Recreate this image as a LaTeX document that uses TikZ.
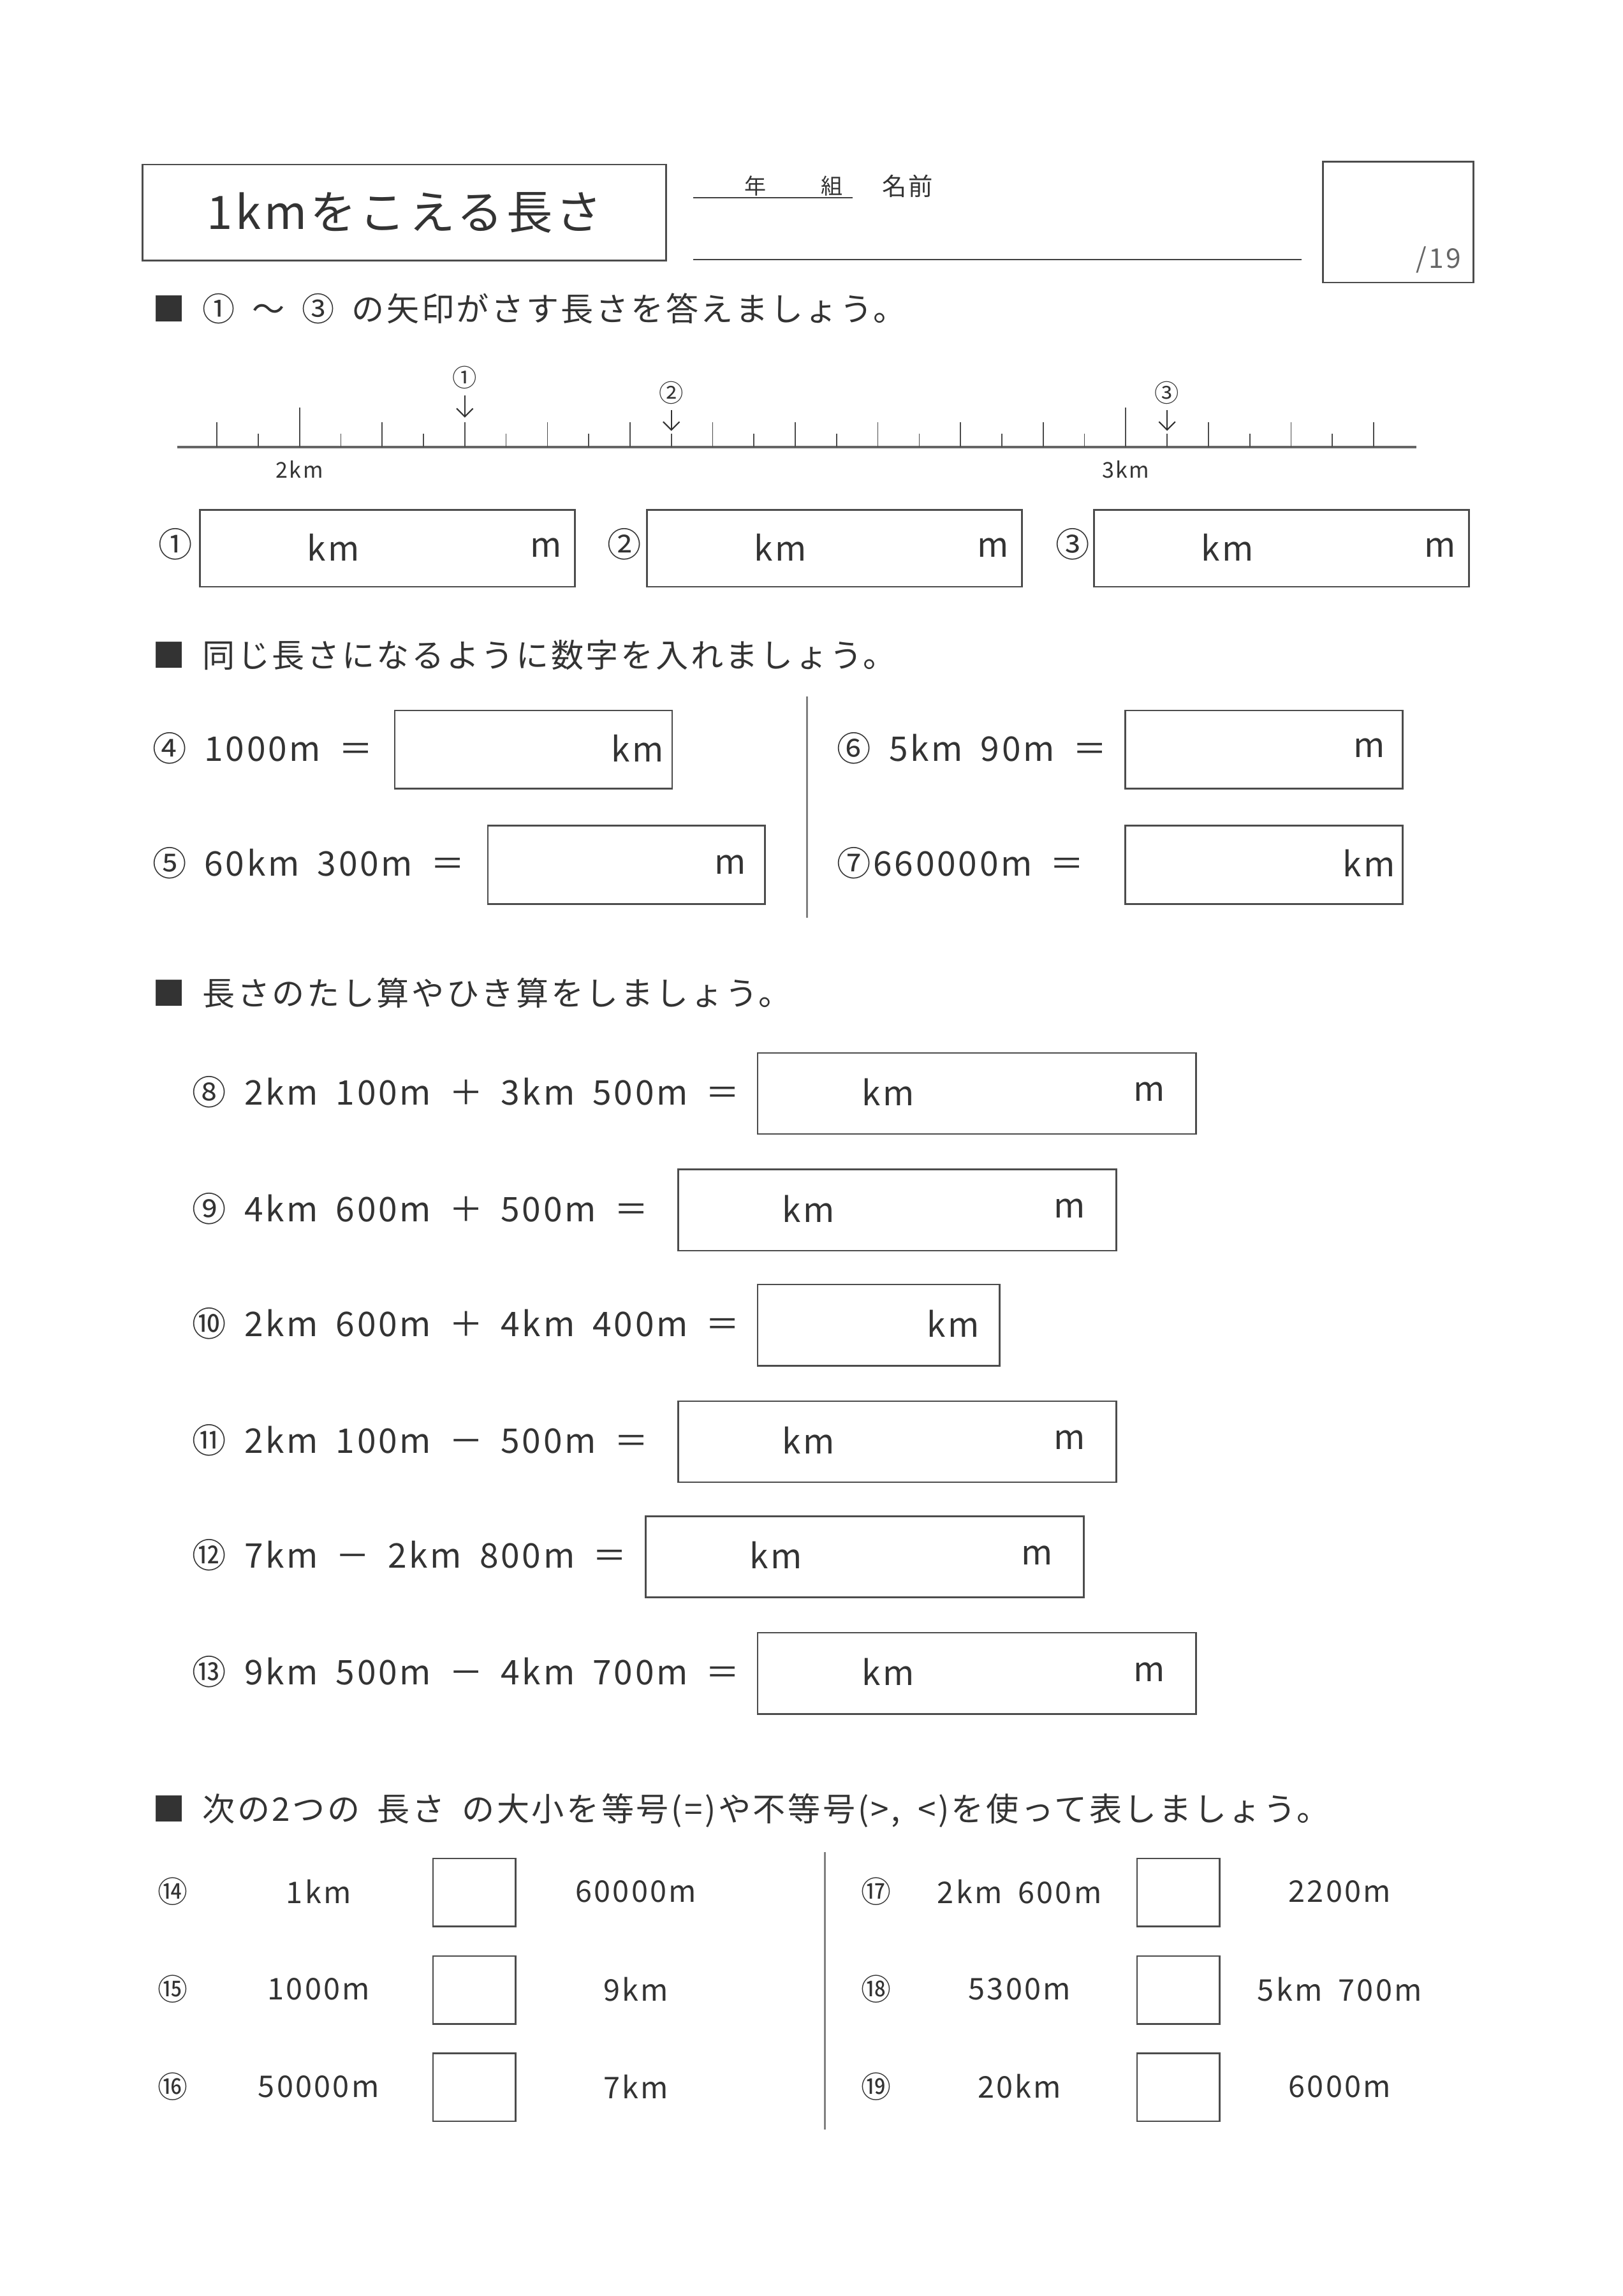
\documentclass[tikz,border=0pt]{standalone}
\usepackage{fontspec}
\setmainfont{Noto Sans CJK JP}[LetterSpace=7,WordSpace=1.8]
\usepackage{tikz}
\usetikzlibrary{arrows.meta}
\newlength\px
\setlength\px{0.01909cm}

\begin{document}
\begin{tikzpicture}[x=0.01909cm,y=-0.01909cm,
    line/.style={draw=black!75,line width=0.6pt},
    ansbox/.style={draw=black!70,line width=0.6pt,anchor=north west,inner sep=0pt},
    txt/.style={font=\fontsize{12.5pt}{14pt}\selectfont,text=black!80,inner sep=0pt},
    head/.style={font=\fontsize{12pt}{14pt}\selectfont,text=black!80,anchor=west,inner sep=0pt},
    small/.style={font=\fontsize{8pt}{9pt}\selectfont,text=black!80,inner sep=0pt},
    cmp/.style={font=\fontsize{11pt}{13pt}\selectfont,text=black!80,inner sep=0pt}]
  \useasboundingbox[fill=white] (0,0) rectangle (1100,1556);

  % header
  \node[ansbox,minimum width=355\px,minimum height=65\px] (title) at (96,111) {};
  \node[font=\fontsize{17pt}{20pt}\selectfont,text=black!80] at (title.center) {1kmをこえる長さ};
  \coordinate (c1) at (470,134); \coordinate (c2) at (578,134);
  \draw[line] (c1) -- (c2);
  \node[small] (nen) at (512,126) {年};
  \node[small] (kumi) at (564,126) {組};
  \node[small,font=\fontsize{9pt}{10pt}\selectfont] (namae) at (615,126) {名前};
  \coordinate (n1) at (470,176); \coordinate (n2) at (882,176);
  \draw[line] (n1) -- (n2);
  \node[ansbox,minimum width=102\px,minimum height=82\px] (score) at (896,109) {};
  \node[small,font=\fontsize{10pt}{11pt}\selectfont,text=black!60] at (975,176) {/19};

  % section 1
  \node[head] (h1) at (103,209) {■ ① ～ ③ の矢印がさす長さを答えましょう。};
  \coordinate (r0) at (120,303); \coordinate (r1) at (960,303);
  \draw[line,draw=black!60,line width=1pt] (r0) -- (r1);
  \foreach \i in {0,...,28}{
    \pgfmathsetmacro\xx{147+28*\i}
    \ifodd\i \def\hh{9}\else \def\hh{17}\fi
    \ifnum\i=2 \def\hh{27}\fi
    \ifnum\i=22 \def\hh{27}\fi
    \draw[black!70,line width=0.4pt] (\xx,303) -- (\xx,303-\hh);
  }
  \node[small] (km2) at (203,318) {2km};
  \node[small] (km3) at (763,318) {3km};
  \node[small,font=\fontsize{9pt}{10pt}\selectfont] (p1) at (315,256) {①};
  \node[small,font=\fontsize{9pt}{10pt}\selectfont] (p2) at (455,266) {②};
  \node[small,font=\fontsize{9pt}{10pt}\selectfont] (p3) at (791,266) {③};
  \coordinate (t1) at (315,283); \coordinate (t2) at (455,292); \coordinate (t3) at (791,292);
  \draw[-{Straight Barb[length=3pt]},black!80,line width=0.5pt] (p1) ++(0,12) -- (t1);
  \draw[-{Straight Barb[length=3pt]},black!80,line width=0.5pt] (p2) ++(0,12) -- (t2);
  \draw[-{Straight Barb[length=3pt]},black!80,line width=0.5pt] (p3) ++(0,12) -- (t3);

  \foreach \n/\lx/\bx in {①/119/135,②/423/438,③/727/741}{
    \node[txt] at (\lx,369) {\n};
    \node[ansbox,minimum width=254\px,minimum height=52\px] (b\lx) at (\bx,345) {};
    \node[txt] at (\bx+91,371) {km};
    \node[txt] at (\bx+235,371) {m};
  }

  % section 2
  \node[head] (h2) at (103,444) {■ 同じ長さになるように数字を入れましょう。};
  \node[txt,anchor=west] (q4) at (103,507) {④ 1000m ＝};
  \node[ansbox,minimum width=188\px,minimum height=53\px] (b4) at (267,481) {};
  \node[txt] at (432,507) {km};
  \node[txt,anchor=west] (q5) at (103,585) {⑤ 60km 300m ＝};
  \node[ansbox,minimum width=188\px,minimum height=53\px] (b5) at (330,559) {};
  \node[txt] at (495,586) {m};
  \coordinate (v1) at (547,472); \coordinate (v2) at (547,622);
  \draw[line,draw=black!50] (v1) -- (v2);
  \node[txt,anchor=west] (q6) at (567,507) {⑥ 5km 90m ＝};
  \node[ansbox,minimum width=188\px,minimum height=53\px] (b6) at (762,481) {};
  \node[txt] at (928,507) {m};
  \node[txt,anchor=west] (q7) at (567,585) {⑦660000m ＝};
  \node[ansbox,minimum width=188\px,minimum height=53\px] (b7) at (762,559) {};
  \node[txt] at (928,585) {km};

  % section 3
  \node[head] (h3) at (103,673) {■ 長さのたし算やひき算をしましょう。};
  \foreach \q/\y/\bx/\bw/\m in {⑧ 2km 100m ＋ 3km 500m ＝/740/513/297/1,
      ⑨ 4km 600m ＋ 500m ＝/819/459/297/1,
      ⑩ 2km 600m ＋ 4km 400m ＝/897/513/164/0,
      ⑪ 2km 100m － 500m ＝/976/459/297/1,
      ⑫ 7km － 2km 800m ＝/1054/437/297/1,
      ⑬ 9km 500m － 4km 700m ＝/1133/513/297/1}{
    \node[txt,anchor=west] at (130,\y) {\q};
    \node[ansbox,minimum width=\bw\px,minimum height=55\px] (s\y) at (\bx,\y-27) {};
    \ifnum\m=1
      \node[txt] at (\bx+89,\y) {km};
      \node[txt] at (\bx+266,\y) {m};
    \else
      \node[txt] at (\bx+133,\y) {km};
    \fi
  }

  % section 4
  \node[head] (h4) at (103,1227) {■ 次の2つの 長さ の大小を等号(=)や不等号(>, <)を使って表しましょう。};
  \coordinate (w1) at (559,1255); \coordinate (w2) at (559,1443);
  \draw[line,draw=black!50] (w1) -- (w2);
  \foreach \n/\a/\b/\y in {⑭/1km/60000m/1282,⑮/1000m/9km/1348,⑯/50000m/7km/1414}{
    \node[cmp] at (117,\y) {\n};
    \node[cmp] at (216,\y) {\a};
    \node[ansbox,minimum width=56\px,minimum height=46\px] at (293,\y-23) {};
    \node[cmp] at (431,\y) {\b};
  }
  \foreach \n/\a/\b/\y in {⑰/2km 600m/2200m/1282,⑱/5300m/5km 700m/1348,⑲/20km/6000m/1414}{
    \node[cmp] at (594,\y) {\n};
    \node[cmp] at (691,\y) {\a};
    \node[ansbox,minimum width=56\px,minimum height=46\px] at (770,\y-23) {};
    \node[cmp] at (908,\y) {\b};
  }
\end{tikzpicture}
\end{document}
